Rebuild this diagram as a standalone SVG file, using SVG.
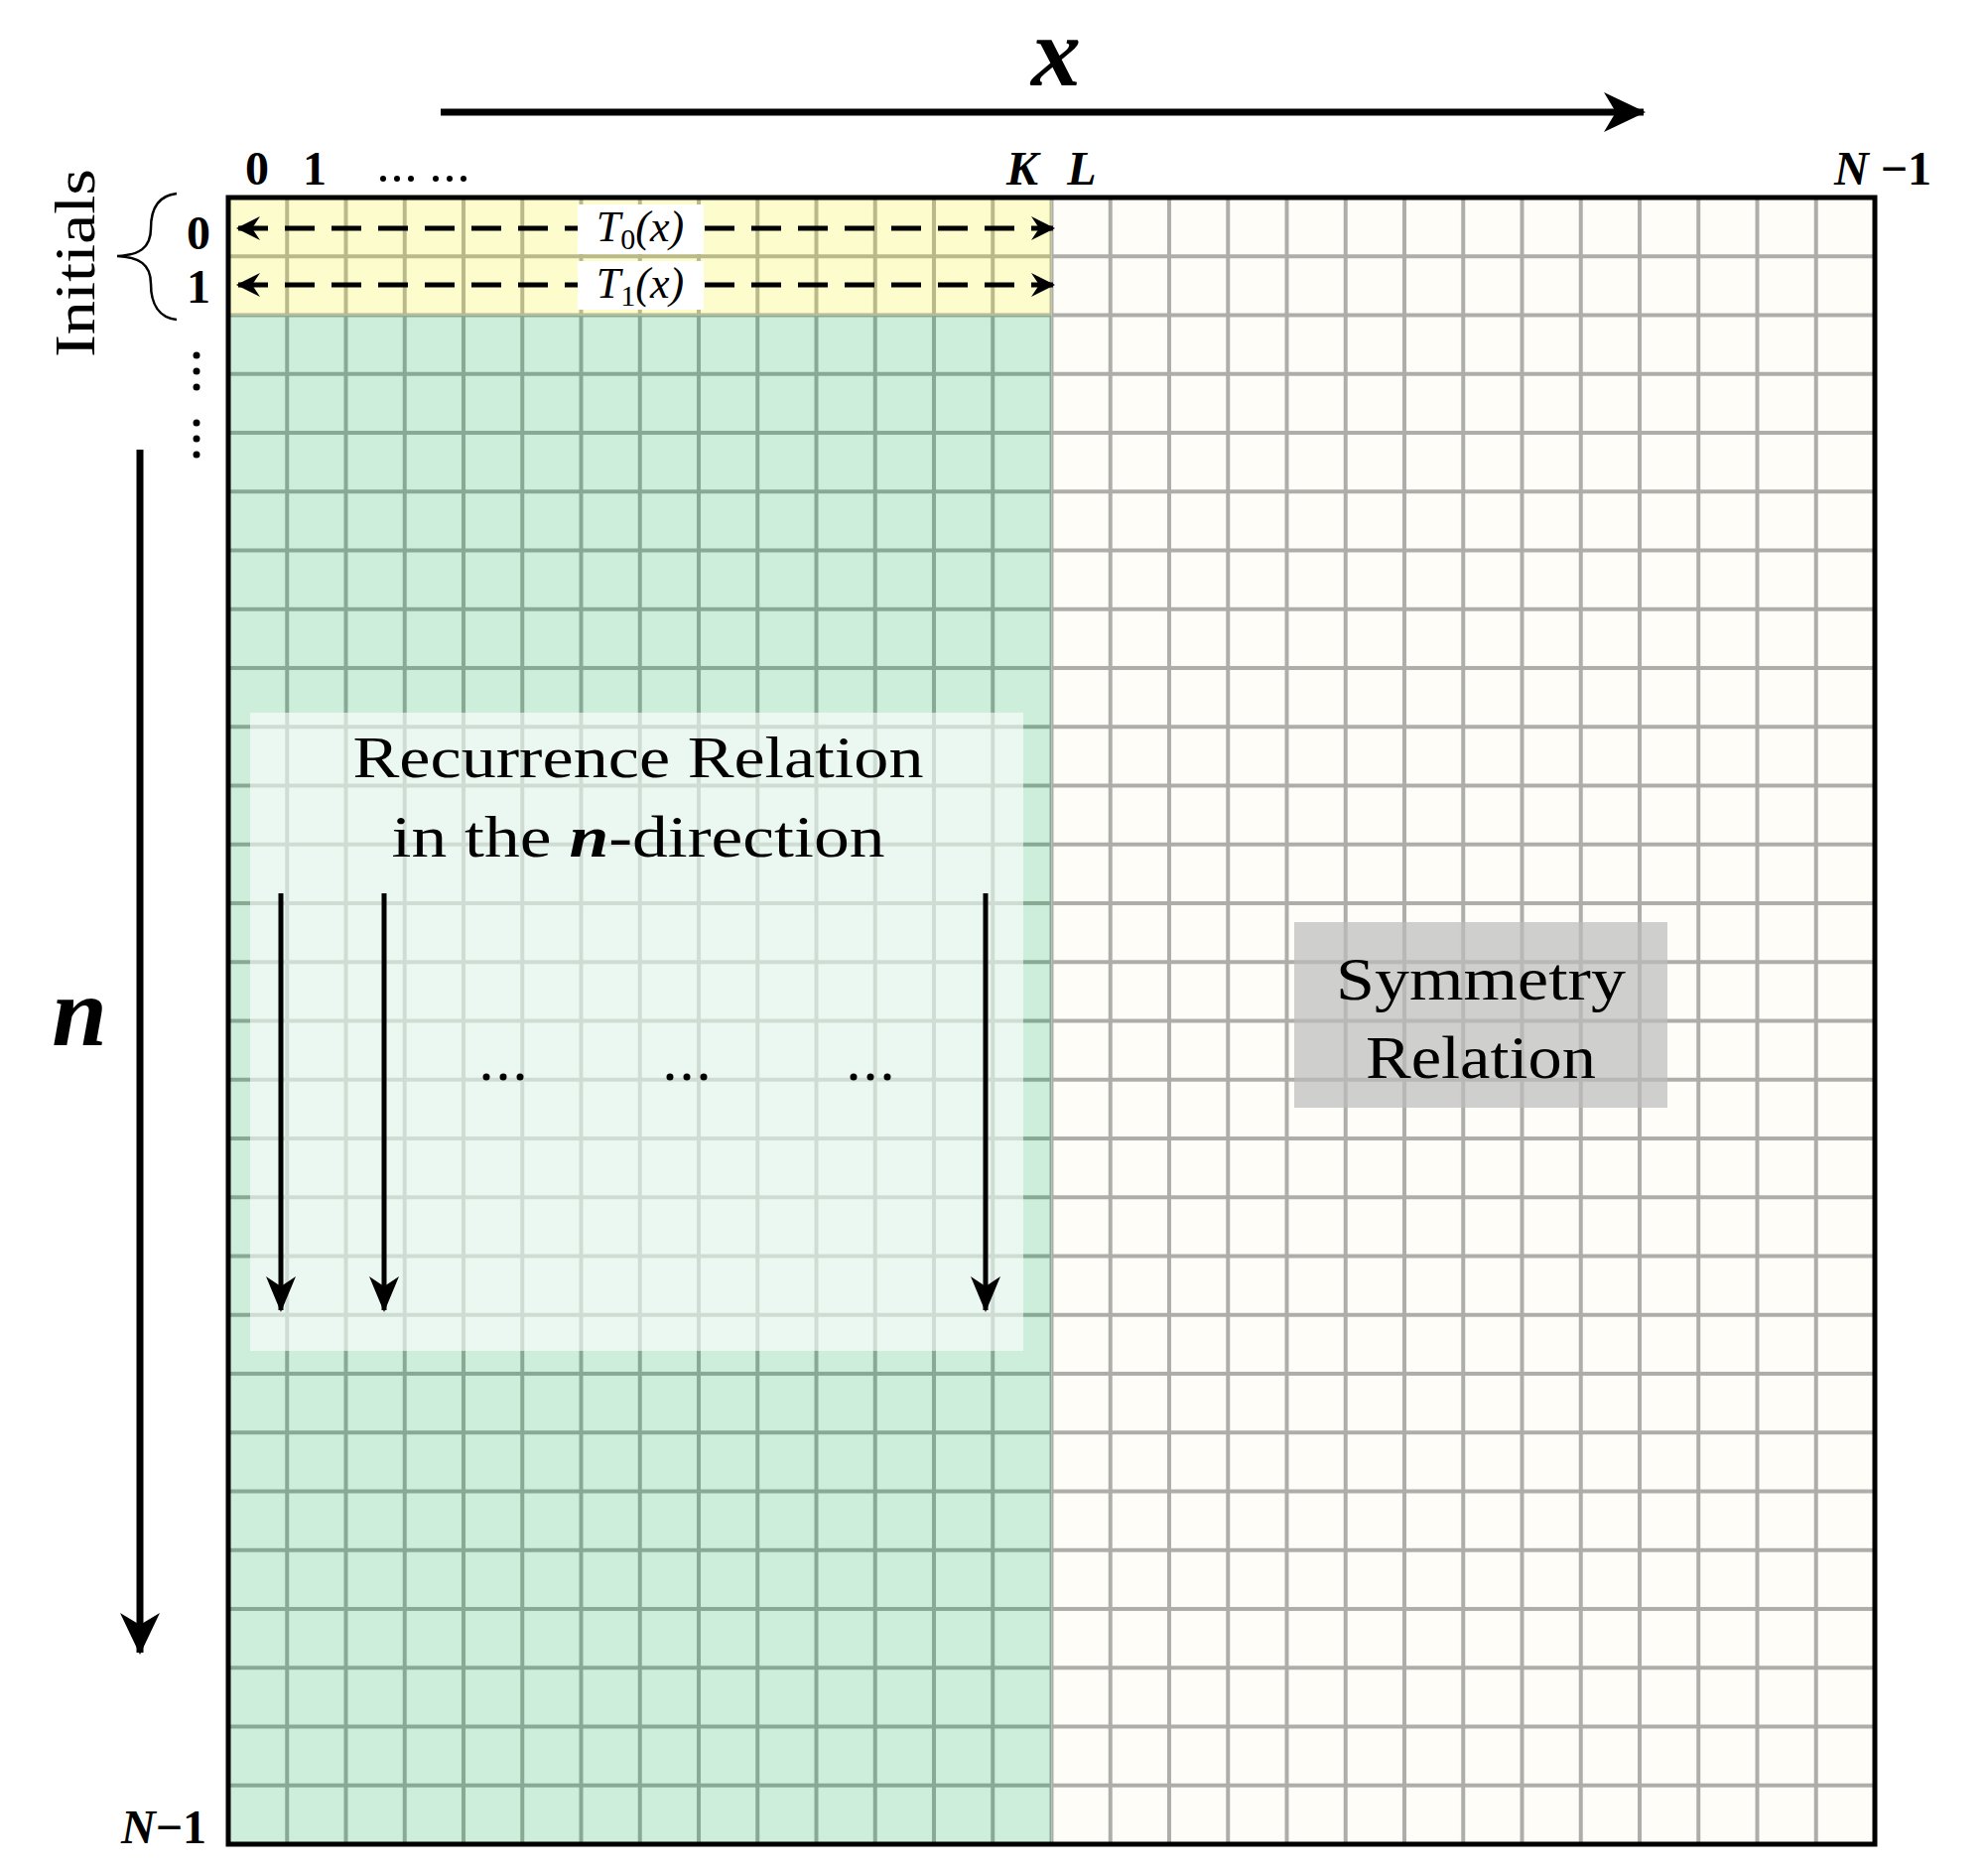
<svg xmlns="http://www.w3.org/2000/svg" width="2003" height="1883" viewBox="0 0 2003 1883">
<style>
.lab{font-family:"Liberation Serif",serif;fill:#000}
.bi{font-weight:bold;font-style:italic}
.b{font-weight:bold}
.it{font-style:italic}
.ax{stroke:#000;stroke-width:7;fill:none}
.dash{stroke:#000;stroke-width:5;stroke-dasharray:30 17;fill:none}
.rr{stroke:#000;stroke-width:5;fill:none}
</style>
<defs>
<pattern id="pY" patternUnits="userSpaceOnUse" x="230" y="199" width="59.25" height="59.25">
<rect width="59.25" height="59.25" fill="#fdfccc"/><rect width="59.25" height="2" fill="#b9b98a"/><rect width="2" height="59.25" fill="#b9b98a"/><rect y="57.25" width="59.25" height="2" fill="#b9b98a"/><rect x="57.25" width="2" height="59.25" fill="#b9b98a"/>
</pattern>
<pattern id="pG" patternUnits="userSpaceOnUse" x="230" y="199" width="59.25" height="59.25">
<rect width="59.25" height="59.25" fill="#cdeedb"/><rect width="59.25" height="2" fill="#88a994"/><rect width="2" height="59.25" fill="#88a994"/><rect y="57.25" width="59.25" height="2" fill="#88a994"/><rect x="57.25" width="2" height="59.25" fill="#88a994"/>
</pattern>
<pattern id="pW" patternUnits="userSpaceOnUse" x="230" y="199" width="59.25" height="59.25">
<rect width="59.25" height="59.25" fill="#fffdf8"/><rect width="59.25" height="2" fill="#adadaa"/><rect width="2" height="59.25" fill="#adadaa"/><rect y="57.25" width="59.25" height="2" fill="#adadaa"/><rect x="57.25" width="2" height="59.25" fill="#adadaa"/>
</pattern>
<marker id="ah" viewBox="0 0 24 24" refX="22" refY="12" markerWidth="24" markerHeight="24" markerUnits="userSpaceOnUse" orient="auto-start-reverse">
<path d="M0,0 L24,12 L0,24 L8,12 Z" fill="#000"/>
</marker>
<marker id="big" viewBox="0 0 42 40" refX="40" refY="20" markerWidth="42" markerHeight="40" markerUnits="userSpaceOnUse" orient="auto">
<path d="M0,0 L42,20 L0,40 L12,20 Z" fill="#000"/>
</marker>
<marker id="mid" viewBox="0 0 36 30" refX="34" refY="15" markerWidth="36" markerHeight="30" markerUnits="userSpaceOnUse" orient="auto">
<path d="M0,0 L36,15 L0,30 L10,15 Z" fill="#000"/>
</marker>
</defs>
<rect width="2003" height="1883" fill="#fff"/>

<g id="grid">
<rect x="230" y="199" width="829.5" height="118.5" fill="url(#pY)"/>
<rect x="230" y="317.5" width="829.5" height="1540.5" fill="url(#pG)"/>
<rect x="1059.5" y="199" width="829.5" height="1659" fill="url(#pW)"/>
<rect x="230" y="199" width="1659" height="1659" fill="none" stroke="#000" stroke-width="5"/>
</g>

<g id="recurrence">
<rect x="252" y="718" width="779" height="643" fill="#fff" fill-opacity="0.6"/>
<text class="lab" x="643" y="783" font-size="60" text-anchor="middle" textLength="575" lengthAdjust="spacingAndGlyphs">Recurrence Relation</text>
<text class="lab" x="643" y="863" font-size="60" text-anchor="middle" textLength="497" lengthAdjust="spacingAndGlyphs">in the <tspan class="bi">n</tspan>-direction</text>
<g fill="#000"><circle cx="490" cy="1085" r="3.5"/><circle cx="507" cy="1085" r="3.5"/><circle cx="524" cy="1085" r="3.5"/>
<circle cx="675" cy="1085" r="3.5"/><circle cx="692" cy="1085" r="3.5"/><circle cx="709" cy="1085" r="3.5"/>
<circle cx="860" cy="1085" r="3.5"/><circle cx="877" cy="1085" r="3.5"/><circle cx="894" cy="1085" r="3.5"/></g>
</g>

<g id="symmetry">
<rect x="1304" y="929" width="376" height="187" fill="#bdbdbd" fill-opacity="0.72"/>
<text class="lab" x="1492" y="1007" font-size="62" text-anchor="middle" textLength="292" lengthAdjust="spacingAndGlyphs">Symmetry</text>
<text class="lab" x="1492" y="1086" font-size="62" text-anchor="middle" textLength="232" lengthAdjust="spacingAndGlyphs">Relation</text>
</g>

<g id="connectors">
<line class="ax" x1="444" y1="113" x2="1656" y2="113" marker-end="url(#big)"/>
<line class="ax" x1="141" y1="453" x2="141" y2="1665" marker-end="url(#big)"/>
<line class="dash" x1="240" y1="230" x2="1061" y2="230" marker-start="url(#ah)" marker-end="url(#ah)"/>
<line class="dash" x1="240" y1="287" x2="1061" y2="287" marker-start="url(#ah)" marker-end="url(#ah)"/>
<line class="rr" x1="283" y1="900" x2="283" y2="1320" marker-end="url(#mid)"/>
<line class="rr" x1="387" y1="900" x2="387" y2="1320" marker-end="url(#mid)"/>
<line class="rr" x1="993" y1="900" x2="993" y2="1320" marker-end="url(#mid)"/>
</g>

<g id="t0">
<rect x="582" y="206" width="127" height="50" fill="#fff"/>
<text class="lab it" x="645" y="243" font-size="44" text-anchor="middle">T<tspan font-size="30" dy="8" font-style="normal">0</tspan><tspan dy="-8">(x)</tspan></text>
</g>
<g id="t1">
<rect x="582" y="263" width="127" height="49" fill="#fff"/>
<text class="lab it" x="645" y="300" font-size="44" text-anchor="middle">T<tspan font-size="30" dy="8" font-style="normal">1</tspan><tspan dy="-8">(x)</tspan></text>
</g>

<g id="labels">
<text class="lab bi" x="1064" y="86" font-size="100" text-anchor="middle">x</text>
<text class="lab bi" x="80" y="1053" font-size="100" text-anchor="middle">n</text>
<text class="lab b" x="259" y="186" font-size="48" text-anchor="middle">0</text>
<text class="lab b" x="317" y="186" font-size="48" text-anchor="middle">1</text>
<g fill="#000"><circle cx="386" cy="180" r="3"/><circle cx="400" cy="180" r="3"/><circle cx="414" cy="180" r="3"/><circle cx="439" cy="180" r="3"/><circle cx="453" cy="180" r="3"/><circle cx="467" cy="180" r="3"/></g>
<text class="lab bi" x="1030" y="186" font-size="48" text-anchor="middle">K</text>
<text class="lab bi" x="1090" y="186" font-size="48" text-anchor="middle">L</text>
<text class="lab bi" x="1897" y="186" font-size="48" text-anchor="middle">N<tspan font-style="normal"> −1</tspan></text>
<text class="lab bi" x="165" y="1857" font-size="48" text-anchor="middle">N<tspan font-style="normal">−1</tspan></text>
<text class="lab b" x="200" y="251" font-size="48" text-anchor="middle">0</text>
<text class="lab b" x="200" y="305" font-size="48" text-anchor="middle">1</text>
<g fill="#000"><circle cx="198" cy="358" r="3.5"/><circle cx="198" cy="374" r="3.5"/><circle cx="198" cy="390" r="3.5"/><circle cx="198" cy="426" r="3.5"/><circle cx="198" cy="442" r="3.5"/><circle cx="198" cy="458" r="3.5"/></g>
<path d="M178,195 C160,197 152,210 152,230 C152,250 140,257 118,258 C140,259 152,266 152,286 C152,306 160,320 178,322" fill="none" stroke="#000" stroke-width="2.5"/>
<text class="lab" transform="translate(95,265) rotate(-90)" font-size="58" text-anchor="middle" textLength="190" lengthAdjust="spacingAndGlyphs">Initials</text>
</g>
</svg>
